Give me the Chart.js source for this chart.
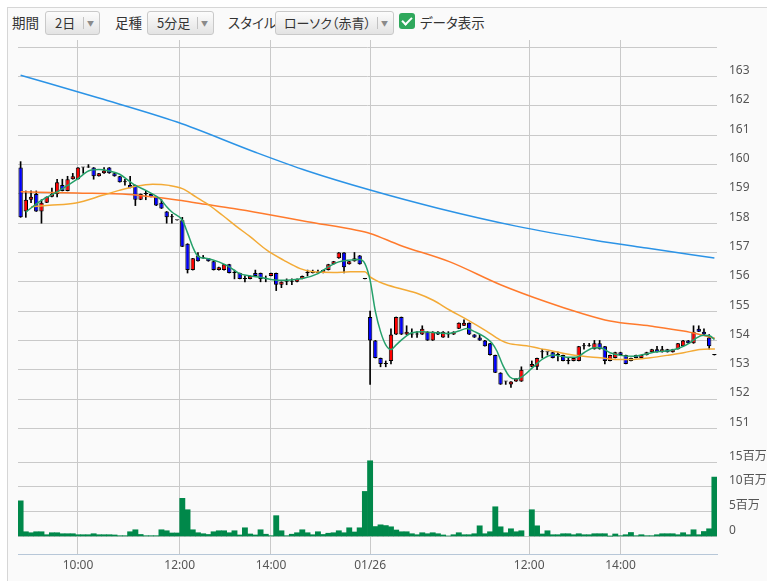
<!DOCTYPE html>
<html lang="ja">
<head>
<meta charset="utf-8">
<title>5分足チャート</title>
<script src="https://cdn.jsdelivr.net/npm/chart.js@4.4.1/dist/chart.umd.min.js"></script>
<style>
  html, body { margin: 0; padding: 0; background: #fff; }
  body { width: 767px; height: 581px; position: relative; overflow: hidden;
         font-family: "Noto Sans CJK JP", "Noto Sans", sans-serif; color: #333; font-feature-settings: "palt"; }
  .panel { position: absolute; left: 7px; top: 7px; width: 760px; height: 574px; box-sizing: border-box;
           border-left: 1px solid #d6d6d6; border-top: 1px solid #d6d6d6; background: #fafafa; }
  .lbl { position: absolute; top: 13px; font-size: 13.5px; line-height: 19px; white-space: nowrap; }
  .btn { position: absolute; top: 11px; height: 24px; box-sizing: border-box; border: 1px solid #c9c9c9;
         border-radius: 3px; background: linear-gradient(#fcfcfc, #e3e3e3); font-size: 13px; line-height: 22px; }
  .btn .txt { position: absolute; top: 0; white-space: nowrap; }
  .btn .sep { position: absolute; top: 5px; height: 12px; width: 1px; background: #c2c2c2; }
  .btn .arr { position: absolute; top: 0; font-size: 7px; color: #8a8a8a; }
  .chk { position: absolute; left: 399px; top: 13px; width: 16px; height: 16px; border-radius: 3px; background: #2fa85c; }
  .chk::after { content: ""; position: absolute; left: 5px; top: 2px; width: 4px; height: 8px;
                border: solid #fff; border-width: 0 2px 2px 0; transform: rotate(45deg); }
  #priceBox { position: absolute; left: 0; top: 40px; }
  #volBox { position: absolute; left: 0; top: 448px; }
</style>
</head>
<body>
<div class="panel"></div>

<span class="lbl" style="left:12px">期間</span>
<div class="btn" style="left:45px; width:55px">
  <span class="txt" style="left:9px">2日</span><span class="sep" style="left:37px"></span><span class="arr" style="left:41px">▼</span>
</div>
<span class="lbl" style="left:115px">足種</span>
<div class="btn" style="left:147px; width:67px">
  <span class="txt" style="left:9px">5分足</span><span class="sep" style="left:49px"></span><span class="arr" style="left:53px">▼</span>
</div>
<span class="lbl" style="left:228px">スタイル</span>
<div class="btn" style="left:275px; width:119px">
  <span class="txt" style="left:8px">ローソク（赤青）</span><span class="sep" style="left:101px"></span><span class="arr" style="left:105px">▼</span>
</div>
<div class="chk"></div>
<span class="lbl" style="left:420px">データ表示</span>

<div id="priceBox"><canvas id="priceChart" width="767" height="408"></canvas></div>
<div id="volBox"><canvas id="volumeChart" width="767" height="133"></canvas></div>

<script>
// 5分足 2日分 (1日 67本、11:30の枠は 1/26 は出来高なし)
const tickSlots = [11, 30.5, 48, 67, 97.5, 115];
const tickLabels = ["10:00", "12:00", "14:00", "01/26", "12:00", "14:00"];
const priceTicks = [151, 152, 153, 154, 155, 156, 157, 158, 159, 160, 161, 162, 163, 164];
const volumeTicks = [0, 5, 10, 15];

const opens = [
  159.9, 158.4, 158.8, 159.0, 158.4, 158.7, 158.9, 159.0, 159.3, 159.1, 159.5, 159.5, 159.9, 159.9, 159.9, 159.6, 159.7,
  159.9, 159.7, 159.6, 159.4, 159.3, 159.3, 158.8, 159.0, 159.0, 158.9, 158.7, 158.4, 158.2, 158.1, 158.1, 157.3, 156.4,
  156.9, 156.8, 156.8, 156.7, 156.4, 156.4, 156.6, 156.3, 156.3, 156.1, 156.1, 156.3, 156.3, 156.1, 156.2, 156.3, 155.9,
  156.0, 156.0, 156.0, 156.1, 156.3, 156.3, 156.3, 156.3, 156.4, 156.6, 156.8, 157.0, 156.6, 156.7, 156.9, 156.1,
  154.8, 154.0, 153.4, 153.2, 153.3, 154.2, 154.8, 154.2, 154.2, 154.2, 154.2, 154.3, 154.0, 154.3, 154.1, 154.2, 154.2,
  154.4, 154.5, 154.6, 154.2, 154.1, 154.0, 153.9, 153.5, 152.9, 152.6, 152.5, 152.6, 152.6, null, 153.1, 153.1, 153.6,
  153.6, 153.6, 153.5, 153.5, 153.3, 153.3, 153.3, 153.8, 153.8, 153.7, 153.9, 153.8, 153.3, 153.4, 153.6, 153.5, 153.3,
  153.5, 153.4, 153.5, 153.6, 153.7, 153.6, 153.7, 153.6, 153.7, 153.8, 154.0, 153.9, 154.4, 154.3, 154.1, 153.5
];
const highs = [
  160.1, 159.1, 159.1, 159.1, 158.8, 158.9, 159.2, 159.5, 159.5, 159.6, 159.7, 159.9, 159.9, 160.0, 159.9, 159.7, 159.9,
  159.9, 159.7, 159.6, 159.5, 159.6, 159.3, 159.0, 159.1, 159.0, 158.9, 158.8, 158.4, 158.3, 158.1, 158.2, 157.3, 156.8,
  157.0, 156.9, 156.8, 156.7, 156.5, 156.6, 156.6, 156.4, 156.3, 156.2, 156.2, 156.4, 156.3, 156.2, 156.3, 156.3, 156.0,
  156.1, 156.1, 156.1, 156.2, 156.4, 156.4, 156.4, 156.4, 156.6, 156.7, 157.0, 157.0, 156.7, 157.0, 156.9, 156.1,
  155.0, 154.0, 153.4, 153.3, 154.4, 154.8, 154.8, 154.5, 154.4, 154.3, 154.5, 154.3, 154.3, 154.3, 154.3, 154.3, 154.3,
  154.6, 154.7, 154.6, 154.2, 154.2, 154.0, 153.9, 153.5, 152.9, 152.6, 152.6, 152.7, 153.1, null, 153.3, 153.4, 153.7,
  153.6, 153.6, 153.6, 153.5, 153.4, 153.4, 153.8, 153.9, 153.9, 154.0, 154.0, 153.8, 153.5, 153.6, 153.6, 153.5, 153.4,
  153.5, 153.5, 153.6, 153.7, 153.8, 153.8, 153.7, 153.7, 153.9, 154.0, 154.0, 154.5, 154.5, 154.4, 154.2, 153.5
];
const lows = [
  158.2, 158.2, 158.7, 158.4, 158.0, 158.7, 158.9, 158.9, 159.1, 159.1, 159.5, 159.5, 159.7, 159.9, 159.5, 159.6, 159.7,
  159.7, 159.6, 159.4, 159.3, 159.2, 158.6, 158.8, 158.8, 158.9, 158.6, 158.5, 158.0, 158.0, 158.1, 157.2, 156.3, 156.4,
  156.7, 156.8, 156.7, 156.4, 156.4, 156.4, 156.3, 156.1, 156.1, 156.0, 156.1, 156.2, 156.0, 156.0, 156.2, 155.7, 155.8,
  155.9, 155.9, 156.0, 156.1, 156.2, 156.3, 156.3, 156.3, 156.4, 156.6, 156.8, 156.3, 156.6, 156.7, 156.6, 156.1,
  152.5, 153.4, 153.1, 153.1, 153.2, 154.2, 154.2, 154.2, 154.1, 154.1, 154.2, 154.0, 154.0, 154.2, 154.1, 154.1, 154.2,
  154.4, 154.5, 154.2, 154.1, 154.0, 153.8, 153.5, 152.9, 152.5, 152.5, 152.4, 152.6, 152.6, null, 153.1, 153.0, 153.4,
  153.5, 153.4, 153.3, 153.3, 153.2, 153.3, 153.3, 153.7, 153.8, 153.7, 153.7, 153.2, 153.3, 153.4, 153.5, 153.2, 153.3,
  153.4, 153.4, 153.5, 153.6, 153.6, 153.6, 153.6, 153.6, 153.7, 153.8, 153.9, 153.9, 154.3, 154.2, 153.7, 153.5
];
const closes = [
  158.2, 158.8, 158.9, 158.4, 158.7, 158.9, 159.0, 159.4, 159.1, 159.5, 159.6, 159.9, 159.9, 159.9, 159.6, 159.7, 159.8,
  159.7, 159.6, 159.4, 159.4, 159.2, 158.8, 159.0, 159.0, 158.9, 158.6, 158.5, 158.2, 158.2, 158.1, 157.2, 156.4, 156.8,
  156.7, 156.8, 156.7, 156.4, 156.5, 156.6, 156.3, 156.3, 156.1, 156.1, 156.2, 156.2, 156.1, 156.1, 156.3, 155.9, 156.0,
  156.0, 156.0, 156.1, 156.2, 156.3, 156.3, 156.3, 156.4, 156.6, 156.7, 157.0, 156.5, 156.7, 156.8, 156.6, 156.1,
  154.0, 153.4, 153.2, 153.2, 154.2, 154.8, 154.2, 154.3, 154.2, 154.2, 154.4, 154.0, 154.3, 154.2, 154.3, 154.2, 154.3,
  154.6, 154.6, 154.2, 154.1, 154.0, 153.8, 153.5, 152.9, 152.5, 152.6, 152.6, 152.7, 153.0, null, 153.2, 153.4, 153.6,
  153.6, 153.4, 153.5, 153.3, 153.3, 153.4, 153.8, 153.8, 153.8, 153.9, 153.7, 153.3, 153.5, 153.6, 153.5, 153.2, 153.4,
  153.4, 153.5, 153.6, 153.7, 153.6, 153.7, 153.6, 153.7, 153.9, 154.0, 153.9, 154.3, 154.3, 154.2, 153.8, 153.5
];
// 出来高 (百万株)
const volumes = [
  7.2, 0.95, 0.75, 0.95, 0.95, 0.35, 0.75, 0.75, 0.55, 0.55, 0.55, 0.35, 0.35, 0.35, 0.55, 0.35, 0.35,
  0.35, 0.3, 0.15, 0.15, 0.95, 1.35, 0.4, 0.15, 0.15, 0.15, 1.35, 1.15, 0.7, 0.7, 7.7, 5.4, 1.35,
  0.75, 0.55, 0.4, 0.95, 1.15, 1.15, 0.75, 1.15, 0.3, 1.75, 0.5, 0.3, 1.35, 0.45, 0.15, 4.2, 1.15,
  0.15, 0.45, 0.75, 1.35, 0.75, 0.35, 0.95, 0.4, 0.65, 0.75, 1.15, 0.75, 1.75, 0.9, 1.75, 9.1,
  15.3, 2.0, 2.35, 2.2, 1.95, 1.3, 0.95, 0.95, 0.55, 0.35, 0.75, 0.55, 0.75, 0.55, 0.3, 0.1, 0.35,
  0.75, 0.35, 0.35, 0.55, 2.15, 0.55, 0.95, 6.0, 1.95, 0.75, 1.55, 0.95, 1.15, null, 5.4, 2.15, 0.5,
  1.15, 0.35, 0.35, 0.55, 0.55, 0.35, 0.55, 0.35, 0.35, 0.55, 0.55, 0.55, 0.05, 0.5, 0.15, 0.35, 0.8,
  0.15, 0.35, 0.15, 0.15, 0.35, 0.55, 0.55, 0.55, 0.35, 0.75, 0.35, 1.35, 0.35, 1.0, 1.55, 12.0
];

// 移動平均線 [足の位置, 値]
const maShort = [
  [1, 158.38], [4, 158.78], [7, 159.07], [9, 159.29], [11, 159.52], [13, 159.78], [15, 159.83], [17, 159.78],
  [19, 159.67], [21, 159.41], [22, 159.29], [24, 159.12], [26, 158.92], [27, 158.78], [28, 158.56], [29, 158.38],
  [31, 158.1], [32, 157.67], [33, 157.19], [34, 156.87], [36, 156.79], [38, 156.68], [40, 156.51], [42, 156.28],
  [44, 156.2], [46, 156.15], [48, 156.08], [50, 156.05], [54, 156.11], [57, 156.28], [59, 156.51], [61, 156.68],
  [63, 156.74], [65, 156.76], [66, 156.62], [67, 156.05], [68, 155.0], [69, 154.3], [70, 153.85], [71, 153.69],
  [72, 153.85], [73.5, 154.09], [75, 154.26], [77, 154.3], [79, 154.27], [82, 154.24], [84, 154.32], [85.5, 154.41],
  [87, 154.3], [88.7, 154.15], [90.3, 153.92], [91.3, 153.64], [92.5, 153.13], [93.8, 152.75], [95, 152.68],
  [96.3, 152.78], [98.3, 153.1], [100.2, 153.38], [102.1, 153.5], [104.7, 153.43], [106.6, 153.43], [108, 153.58],
  [110, 153.75], [111.1, 153.75], [113, 153.58], [115, 153.49], [117.5, 153.46], [119.4, 153.52], [122, 153.61],
  [124.5, 153.66], [126.4, 153.75], [128.3, 153.92], [129.6, 154.09], [130.9, 154.18], [132.2, 154.15], [133, 154.03]
];
const maMid = [
  [2, 158.56], [5.5, 158.61], [10.6, 158.69], [15.7, 158.95], [18.9, 159.12], [22.1, 159.26], [25.3, 159.33],
  [28.5, 159.29], [31, 159.18], [33.6, 158.9], [36.2, 158.61], [38.7, 158.27], [41.3, 157.9], [44, 157.54],
  [47.2, 157.08], [50.4, 156.74], [53.6, 156.45], [56.1, 156.34], [60, 156.32], [63.2, 156.34], [66, 156.34],
  [67, 156.17], [69.5, 155.94], [72.7, 155.77], [76.1, 155.6], [79.1, 155.37], [82.3, 155.03], [85.5, 154.72],
  [89.3, 154.32], [91.9, 154.02], [93.5, 153.9], [97, 153.82], [99.6, 153.72], [101.5, 153.66], [104.7, 153.54],
  [107.9, 153.46], [111.1, 153.41], [114.3, 153.35], [117.5, 153.35], [120.7, 153.41], [123.9, 153.49],
  [127.1, 153.58], [130.2, 153.69], [133.1, 153.71]
];
const maLong = [
  [0, 159.07], [10.7, 159.03], [20.8, 158.98], [25.3, 158.9], [30.4, 158.78], [34.4, 158.67], [40.8, 158.5],
  [46.4, 158.33], [55, 158.05], [64.4, 157.76], [67, 157.65], [72.7, 157.25], [82.3, 156.68], [92, 155.9],
  [101, 155.3], [107, 154.95], [113, 154.66], [120.7, 154.49], [127.1, 154.32], [130.2, 154.2], [133.1, 154.07]
];
const maTrend = [
  [0, 163.05], [15, 162.27], [30, 161.45], [45, 160.42], [55, 159.78], [67, 159.13], [80, 158.51],
  [95, 157.9], [110, 157.42], [120, 157.15], [133, 156.81]
];

const slots = closes.map((c, i) => i);
const bodies = closes.map((c, i) => c === null ? null : [opens[i], c]);
const wicks = closes.map((c, i) => c === null ? null : [lows[i], highs[i]]);
const bodyColors = closes.map((c, i) => c !== null && c < opens[i] ? "#0000ff" : "#ff0000");
const toPoints = pairs => pairs.map(([x, y]) => ({ x, y }));

const tickFont = { family: "'Noto Sans', 'Noto Sans CJK JP', sans-serif", size: 12 };
const gridColor = "#c9c9c9";

function timeAxis(showLabels) {
    return {
        type: "linear",
        min: -0.5,
        max: slots.length - 0.5,
        offset: false,
        afterBuildTicks: s => { s.ticks = tickSlots.map(v => ({ value: v })); },
        ticks: {
            display: showLabels, autoSkip: false, maxRotation: 0, padding: 4,
            color: "#555", font: tickFont,
            callback: (v, i) => tickLabels[i]
        },
        grid: { color: gridColor, drawTicks: false, offset: false },
        border: { display: showLabels, color: "#b7c7d8" },
        afterFit: s => {
            s.height = showLabels ? 27 : 0;
            s.paddingLeft = 0;
            s.paddingRight = 0;
        }
    };
}

function valueAxis(min, max, ticks, fmt) {
    return {
        position: "right",
        min, max,
        afterBuildTicks: s => { s.ticks = ticks.map(v => ({ value: v })); },
        ticks: { padding: 12, labelOffset: -6, color: "#555", font: tickFont, callback: fmt },
        grid: { color: gridColor, drawTicks: false },
        border: { display: false },
        afterFit: s => {
            s.width = 50;
            s.paddingTop = 0;
            s.paddingBottom = 0;
        }
    };
}

const baseOptions = {
    responsive: false,
    animation: false,
    devicePixelRatio: 1,
    events: [],
    layout: { padding: { left: 18, right: 0, top: 0, bottom: 0 } },
    plugins: { legend: { display: false }, tooltip: { enabled: false } }
};

function maLine(pairs, color) {
    return {
        type: "line",
        data: toPoints(pairs),
        borderColor: color,
        borderWidth: 1.5,
        pointRadius: 0,
        cubicInterpolationMode: "monotone",
        order: 0
    };
}

new Chart(document.getElementById("priceChart"), {
    type: "bar",
    data: {
        labels: slots,
        datasets: [
            maLine(maShort, "#24a06a"),
            maLine(maMid, "#f3aa36"),
            maLine(maLong, "#ff7a2c"),
            maLine(maTrend, "#2b93e6"),
            {
                data: bodies,
                backgroundColor: bodyColors,
                borderColor: "#000",
                borderWidth: 1,
                borderSkipped: false,
                grouped: false,
                barPercentage: 0.84,
                categoryPercentage: 1,
                minBarLength: 1,
                order: 5
            },
            {
                data: wicks,
                backgroundColor: "#000",
                barThickness: 1,
                grouped: false,
                order: 6
            }
        ]
    },
    options: {
        ...baseOptions,
        scales: {
            x: timeAxis(false),
            y: valueAxis(150.33, 164.25, priceTicks, v => v > 163.5 ? "" : String(v))
        }
    }
});

new Chart(document.getElementById("volumeChart"), {
    type: "bar",
    data: {
        labels: slots,
        datasets: [{
            data: volumes,
            backgroundColor: "#00884a",
            barPercentage: 1,
            categoryPercentage: 1
        }]
    },
    options: {
        ...baseOptions,
        scales: {
            x: timeAxis(true),
            y: valueAxis(-3.55, 17.88, volumeTicks, v => v === 0 ? "0" : v + "百万")
        }
    }
});
</script>
</body>
</html>
